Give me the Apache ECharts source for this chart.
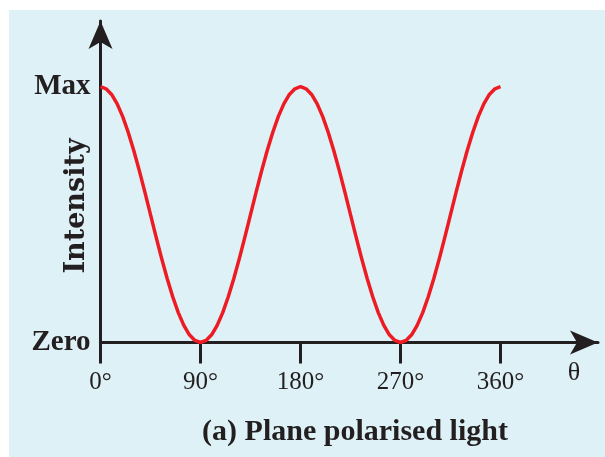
<!DOCTYPE html>
<html><head><meta charset="utf-8">
<script src="https://cdn.jsdelivr.net/npm/echarts@6/dist/echarts.min.js"></script>
<style>html,body{margin:0;padding:0;background:#fff}#c{width:605px;height:457px}</style>
</head><body><div id="c"></div>
<script>
const angles = [0,5,10,15,20,25,30,35,40,45,50,55,60,65,70,75,80,85,90,95,100,105,110,115,120,125,130,135,140,145,150,155,160,165,170,175,180,185,190,195,200,205,210,215,220,225,230,235,240,245,250,255,260,265,270,275,280,285,290,295,300,305,310,315,320,325,330,335,340,345,350,355,360];
const intensity = [1.000,0.992,0.970,0.933,0.883,0.821,0.750,0.671,0.587,0.500,0.413,0.329,0.250,0.179,0.117,0.067,0.030,0.008,0.000,0.008,0.030,0.067,0.117,0.179,0.250,0.329,0.413,0.500,0.587,0.671,0.750,0.821,0.883,0.933,0.970,0.992,1.000,0.992,0.970,0.933,0.883,0.821,0.750,0.671,0.587,0.500,0.413,0.329,0.250,0.179,0.117,0.067,0.030,0.008,0.000,0.008,0.030,0.067,0.117,0.179,0.250,0.329,0.413,0.500,0.587,0.671,0.750,0.821,0.883,0.933,0.970,0.992,1.000];
const xTicks = [0,90,180,270,360];
const xTickLabels = ['0°','90°','180°','270°','360°'];
const yTicks = [0,1];
const yTickLabels = ['Zero','Max'];
const axisTitle = 'θ';
const yTitle = 'Intensity';
const caption = '(a) Plane polarised light';

const ink = '#231f20';
const chart = echarts.init(document.getElementById('c'), null, {renderer:'canvas'});
chart.setOption({
  animation:false,
  backgroundColor:'#ffffff',
  graphic:[
    {type:'rect', z:-100, silent:true, shape:{x:9,y:10,width:596,height:447}, style:{fill:'#ddf1f6'}},
    {type:'text', z:100, x:77, y:206, rotation:Math.PI/2, style:{text:yTitle, font:'bold 27px "DejaVu Serif"', fill:ink, align:'center', verticalAlign:'middle'}},
    {type:'text', z:100, x:574, y:373, style:{text:axisTitle, font:'26px "Liberation Serif"', fill:ink, align:'center', verticalAlign:'middle'}},
    {type:'text', z:100, x:355, y:432, style:{text:caption, font:'bold 30px "Liberation Serif"', fill:ink, align:'center', verticalAlign:'middle'}}
  ],
  grid:{left:100.5, right:7, top:21, bottom:114.5, containLabel:false},
  xAxis:{
    type:'value', min:0, max:447.75,
    axisLine:{show:true, onZero:true, lineStyle:{color:ink, width:3}, symbol:['none','arrow'], symbolSize:[18,28]},
    axisTick:{show:true, customValues:xTicks, length:21, lineStyle:{color:ink, width:3}},
    axisLabel:{customValues:xTicks, margin:27, color:ink, fontFamily:'Liberation Serif', fontSize:25,
      formatter:function(v){const i=xTicks.indexOf(v);return i>=0?xTickLabels[i]:'';}},
    splitLine:{show:false}
  },
  yAxis:{
    type:'value', min:0, max:1.257,
    axisLine:{show:true, lineStyle:{color:ink, width:3}, symbol:['none','arrow'], symbolSize:[18,28]},
    axisTick:{show:false},
    axisLabel:{customValues:yTicks, margin:10, color:ink, fontFamily:'Liberation Serif', fontWeight:'bold', fontSize:29,
      formatter:function(v){const i=yTicks.indexOf(v);return i>=0?yTickLabels[i]:'';}},
    splitLine:{show:false}
  },
  series:[{
    type:'line', smooth:false, symbol:'none', z:1,
    data:angles.map((a,i)=>[a,intensity[i]]),
    lineStyle:{color:'#ed1c24', width:3.5, join:'round', cap:'butt'}
  }]
});
</script></body></html>
